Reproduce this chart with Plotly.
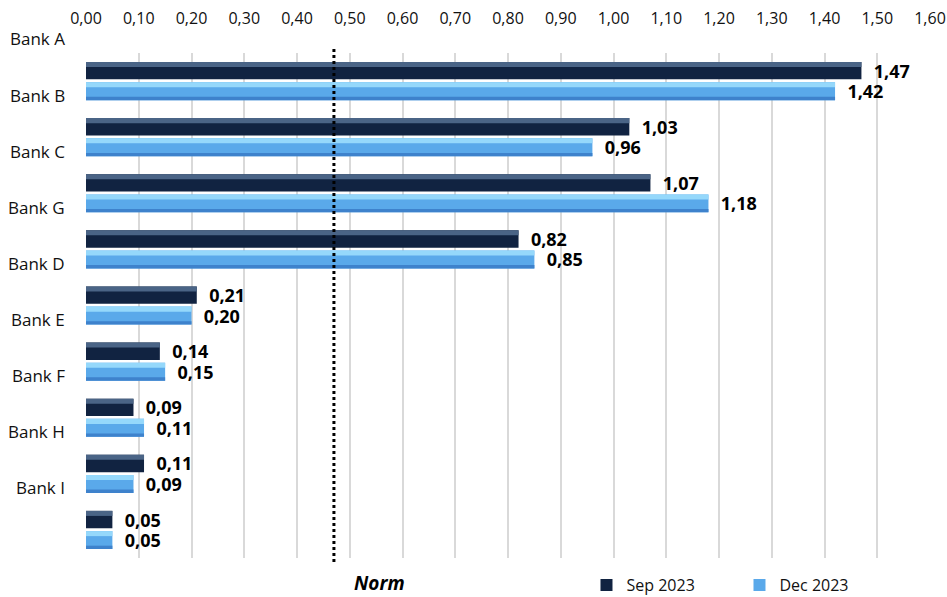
import plotly.graph_objects as go

# Ratio per bank, two reporting dates
banks = ["Bank A", "Bank B", "Bank C", "Bank G", "Bank D",
         "Bank E", "Bank F", "Bank H", "Bank I"]
sep_2023 = [1.47, 1.03, 1.07, 0.82, 0.21, 0.14, 0.09, 0.11, 0.05]
dec_2023 = [1.42, 0.96, 1.18, 0.85, 0.20, 0.15, 0.11, 0.09, 0.05]
norm_value = 0.47
x_ticks = [i / 10 for i in range(17)]

FONT = "Open Sans"
DARK = "#112341"
DARK_HI = "#4a6486"
LIGHT = "#5aa9ea"
LIGHT_HI = "#95d8fb"
LIGHT_LO = "#3e82cc"

pos = list(range(len(banks)))
n_rows = len(banks)
nbsp = "\u00a0\u00a0"

fig = go.Figure()

# main bars (carry labels and legend entries)
fig.add_trace(go.Bar(
    name="Sep 2023", y=pos, x=sep_2023, orientation="h",
    offset=-0.34, width=0.31, marker=dict(color=DARK, line=dict(width=0)),
    text=[nbsp + f"{v:.2f}".replace(".", ",") for v in sep_2023],
    textposition="outside", constraintext="none", cliponaxis=False,
    textfont=dict(family=FONT, size=18, color="#000000", weight="bold"),
))
fig.add_trace(go.Bar(
    name="Dec 2023", y=pos, x=dec_2023, orientation="h",
    offset=0.02, width=0.32, marker=dict(color=LIGHT, line=dict(width=0)),
    text=[nbsp + f"{v:.2f}".replace(".", ",") for v in dec_2023],
    textposition="outside", constraintext="none", cliponaxis=False,
    textfont=dict(family=FONT, size=18, color="#000000", weight="bold"),
))

# bevel highlights on the bars
for vals, off, wid, col in [
    (sep_2023, -0.34, 0.09, DARK_HI),
    (dec_2023, 0.02, 0.09, LIGHT_HI),
    (dec_2023, 0.28, 0.06, LIGHT_LO),
]:
    fig.add_trace(go.Bar(
        y=pos, x=vals, orientation="h", offset=off, width=wid,
        marker=dict(color=col, line=dict(width=0)),
        showlegend=False, hoverinfo="skip",
    ))

# bank labels, set a little above each bar pair
for i, name in enumerate(banks):
    fig.add_annotation(
        x=0, xref="paper", y=1 - (i - 0.25) / n_rows, yref="paper", text=name,
        xanchor="right", yanchor="middle", xshift=-19, showarrow=False,
        font=dict(family=FONT, size=17, color="#111111"),
    )

# norm line
fig.add_shape(type="line", x0=norm_value, x1=norm_value, xref="x",
              y0=-0.008, y1=1.014, yref="paper",
              line=dict(color="#000000", width=3, dash="dot"))
fig.add_shape(type="rect", x0=0.49, x1=0.61, xref="x",
              y0=0, y1=0.042, yref="paper", layer="below",
              fillcolor="#ffffff", line=dict(width=0))
fig.add_annotation(
    x=norm_value, xref="x", y=-0.05, yref="paper", text="<b><i>Norm</i></b>",
    xanchor="left", yanchor="middle", xshift=18, showarrow=False,
    font=dict(family=FONT, size=19, color="#000000"),
)

fig.update_layout(
    width=947, height=597,
    margin=dict(l=86, r=17, t=53, b=39, autoexpand=False),
    paper_bgcolor="#ffffff", plot_bgcolor="#ffffff",
    barmode="overlay",
    separators=", ",
    font=dict(family=FONT, size=16, color="#111111"),
    showlegend=True,
    legend=dict(
        orientation="h", x=0.593, xanchor="left", y=-0.02, yanchor="top",
        font=dict(family=FONT, size=16, color="#111111"),
        entrywidth=108, entrywidthmode="pixels",
        bgcolor="rgba(0,0,0,0)",
    ),
    xaxis=dict(
        side="top", range=[0, 1.6], tickvals=x_ticks, tickformat=".2f",
        showgrid=True, gridcolor="#d9d9d9", gridwidth=1.5,
        zeroline=False, showline=False, ticks="",
        ticklabelstandoff=25,
        tickfont=dict(family=FONT, size=16, color="#111111"),
    ),
    yaxis=dict(
        range=[8.5, -0.5], showticklabels=False, showgrid=False,
        zeroline=False, showline=False, ticks="",
    ),
)

fig.write_html("out.html")
